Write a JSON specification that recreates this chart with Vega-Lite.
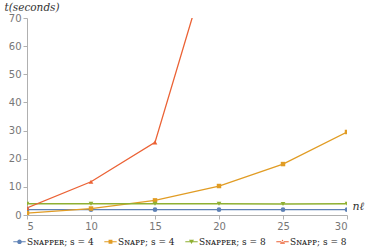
{
  "$schema": "https://vega.github.io/schema/vega-lite/v6.json",
  "width": 320,
  "height": 197,
  "autosize": {"type": "none"},
  "padding": {"left": 27, "top": 18, "right": 21, "bottom": 36},
  "data": {"values": [
    {"series": "Sɴᴀᴘᴘᴇʀ; s = 4", "n": 5, "t": 1.9},
    {"series": "Sɴᴀᴘᴘᴇʀ; s = 4", "n": 10, "t": 1.9},
    {"series": "Sɴᴀᴘᴘᴇʀ; s = 4", "n": 15, "t": 1.9},
    {"series": "Sɴᴀᴘᴘᴇʀ; s = 4", "n": 20, "t": 1.9},
    {"series": "Sɴᴀᴘᴘᴇʀ; s = 4", "n": 25, "t": 1.9},
    {"series": "Sɴᴀᴘᴘᴇʀ; s = 4", "n": 30, "t": 1.9},
    {"series": "Sɴᴀᴘᴘ; s = 4", "n": 5, "t": 0.7},
    {"series": "Sɴᴀᴘᴘ; s = 4", "n": 10, "t": 2.3},
    {"series": "Sɴᴀᴘᴘ; s = 4", "n": 15, "t": 5.2},
    {"series": "Sɴᴀᴘᴘ; s = 4", "n": 20, "t": 10.3},
    {"series": "Sɴᴀᴘᴘ; s = 4", "n": 25, "t": 18.1},
    {"series": "Sɴᴀᴘᴘ; s = 4", "n": 30, "t": 29.5},
    {"series": "Sɴᴀᴘᴘᴇʀ; s = 8", "n": 5, "t": 4.0},
    {"series": "Sɴᴀᴘᴘᴇʀ; s = 8", "n": 10, "t": 4.0},
    {"series": "Sɴᴀᴘᴘᴇʀ; s = 8", "n": 15, "t": 4.0},
    {"series": "Sɴᴀᴘᴘᴇʀ; s = 8", "n": 20, "t": 4.0},
    {"series": "Sɴᴀᴘᴘᴇʀ; s = 8", "n": 25, "t": 3.9},
    {"series": "Sɴᴀᴘᴘᴇʀ; s = 8", "n": 30, "t": 4.0},
    {"series": "Sɴᴀᴘᴘ; s = 8", "n": 5, "t": 2.5},
    {"series": "Sɴᴀᴘᴘ; s = 8", "n": 10, "t": 11.8},
    {"series": "Sɴᴀᴘᴘ; s = 8", "n": 15, "t": 25.8},
    {"series": "Sɴᴀᴘᴘ; s = 8", "n": 20, "t": 102}
  ]},
  "encoding": {
    "x": {"field": "n", "type": "quantitative",
      "scale": {"domain": [5, 30], "nice": false, "zero": false},
      "axis": {"values": [5, 10, 15, 20, 25, 30], "title": "nℓ", "titleFont": "DejaVu Serif", "titleFontStyle": "italic", "titleFontWeight": "normal", "titleFontSize": 11, "titleColor": "#333", "titleX": 325, "titleY": -9, "titleAlign": "left", "titleBaseline": "middle"}},
    "y": {"field": "t", "type": "quantitative",
      "scale": {"domain": [0, 70], "nice": false},
      "axis": {"values": [0, 10, 20, 30, 40, 50, 60, 70], "title": "t(seconds)", "titleFont": "DejaVu Serif", "titleFontStyle": "italic", "titleFontWeight": "normal", "titleFontSize": 10.5, "titleColor": "#333", "titleAngle": 0, "titleX": -23, "titleY": -11, "titleAlign": "left", "titleBaseline": "middle"}},
    "color": {"field": "series", "type": "nominal",
      "sort": ["Sɴᴀᴘᴘᴇʀ; s = 4", "Sɴᴀᴘᴘ; s = 4", "Sɴᴀᴘᴘᴇʀ; s = 8", "Sɴᴀᴘᴘ; s = 8"],
      "scale": {"domain": ["Sɴᴀᴘᴘᴇʀ; s = 4", "Sɴᴀᴘᴘ; s = 4", "Sɴᴀᴘᴘᴇʀ; s = 8", "Sɴᴀᴘᴘ; s = 8"],
        "range": ["#5E81B5", "#E19C24", "#8FB032", "#EB6235"]}}
  },
  "layer": [
    {"mark": {"type": "line", "clip": true, "strokeWidth": 1.3}},
    {"transform": [{"filter": "datum.series == 'Sɴᴀᴘᴘᴇʀ; s = 4'"}],
     "mark": {"type": "point", "filled": true, "shape": "circle", "size": 22, "opacity": 1, "clip": true}},
    {"transform": [{"filter": "datum.series == 'Sɴᴀᴘᴘ; s = 4'"}],
     "mark": {"type": "point", "filled": true, "shape": "square", "size": 20, "opacity": 1, "clip": true}},
    {"transform": [{"filter": "datum.series == 'Sɴᴀᴘᴘᴇʀ; s = 8'"}],
     "mark": {"type": "point", "filled": true, "shape": "triangle-down", "size": 22, "opacity": 1, "clip": true}},
    {"transform": [{"filter": "datum.series == 'Sɴᴀᴘᴘ; s = 8'"}],
     "mark": {"type": "point", "filled": true, "shape": "triangle-up", "size": 22, "opacity": 1, "clip": true}},
    {"mark": {"type": "point", "filled": true, "opacity": 0, "clip": true},
     "encoding": {"shape": {"field": "series", "type": "nominal",
       "scale": {"domain": ["Sɴᴀᴘᴘᴇʀ; s = 4", "Sɴᴀᴘᴘ; s = 4", "Sɴᴀᴘᴘᴇʀ; s = 8", "Sɴᴀᴘᴘ; s = 8"],
         "range": [
           "M-1.6,-0.13H1.6V0.13H-1.6Z M0.6,0A0.6,0.6 0 1,1 -0.6,0A0.6,0.6 0 1,1 0.6,0Z",
           "M-1.6,-0.13H1.6V0.13H-1.6Z M-0.5,-0.5H0.5V0.5H-0.5Z",
           "M-1.6,-0.13H1.6V0.13H-1.6Z M-0.65,-0.5L0.65,-0.5L0,0.6Z",
           "M-1.6,-0.13H1.6V0.13H-1.6Z M-0.65,0.5L0.65,0.5L0,-0.6Z"
         ]}}}}
  ],
  "config": {
    "view": {"stroke": null},
    "font": "DejaVu Sans",
    "axis": {"grid": false, "domainColor": "#b0b0b0", "tickColor": "#b0b0b0", "tickSize": 4, "labelColor": "#777", "labelFontSize": 10, "labelFont": "DejaVu Sans", "labelPadding": 2},
    "axisX": {"labelFontSize": 10},
    "legend": {
      "orient": "none", "legendX": -12, "legendY": 219, "direction": "horizontal", "columns": 4,
      "title": null, "labelFont": "DejaVu Serif", "labelFontSize": 9, "labelColor": "#222",
      "symbolSize": 60, "symbolOpacity": 1, "symbolStrokeWidth": 0, "columnPadding": 10, "labelOffset": 3, "labelLimit": 200
    }
  }
}
